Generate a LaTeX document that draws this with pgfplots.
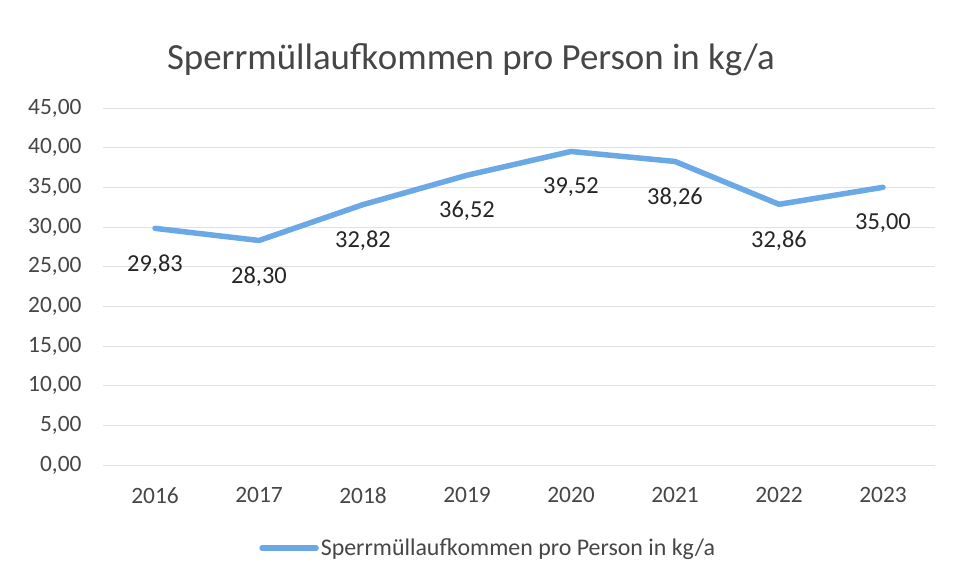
\documentclass[border=0pt]{standalone}
\usepackage{pgfplots}
\pgfplotsset{compat=1.18}
\usepackage{fontspec}
\setmainfont{Carlito}
\definecolor{lineblue}{RGB}{106,168,230}
\definecolor{txtgray}{RGB}{70,70,70}
\definecolor{gridgray}{RGB}{225,225,225}
\begin{document}
\begin{tikzpicture}[x=1bp,y=1bp]
\path (0,0) rectangle (953,583);
\node[font=\fontsize{37}{42}\selectfont, text=txtgray] at (471,523) {Sperrmüllaufkommen pro Person in kg/a};
\begin{axis}[
  at={(103bp,118bp)}, anchor=south west,
  scale only axis, width=832bp, height=357bp,
  xmin=-0.5, xmax=7.5, ymin=0, ymax=45,
  xtick={0,...,7}, xticklabels={2016,2017,2018,2019,2020,2021,2022,2023},
  ytick={0,5,...,45},
  yticklabel={\pgfmathprintnumber[fixed,fixed zerofill,precision=2,use comma]{\tick}},
  /pgf/number format/assume math mode=true,
  ticklabel style={font=\fontsize{23.5}{27}\selectfont, text=txtgray},
  xticklabel style={yshift=-19bp},
  yticklabel style={xshift=-18bp},
  major tick length=0pt,
  axis line style={draw=none},
  ymajorgrids, grid style={gridgray, line width=0.8bp},
  legend style={at={(0.463,-0.233)}, anchor=center, draw=none, font=\fontsize{24}{28}\selectfont, text=txtgray, legend cell align=left, inner sep=0pt},
  legend image code/.code={\draw[#1, line width=5.5bp] (0bp,0bp) -- (54bp,0bp);},
  legend style={/tikz/every even column/.append style={column sep=0pt}},
  point meta=explicit symbolic,
  nodes near coords,
  every node near coord/.append style={font=\fontsize{24.5}{28}\selectfont, text=black!85, anchor=center, yshift=-36bp},
  clip=false,
]
\addplot[lineblue, line width=5.5bp, line join=round, line cap=round, mark=none] coordinates {
(0,29.83) [29,83]
(1,28.30) [28,30]
(2,32.82) [32,82]
(3,36.52) [36,52]
(4,39.52) [39,52]
(5,38.26) [38,26]
(6,32.86) [32,86]
(7,35.00) [35,00]
};
\addlegendentry{Sperrmüllaufkommen pro Person in kg/a}
\end{axis}
\end{tikzpicture}
\end{document}
